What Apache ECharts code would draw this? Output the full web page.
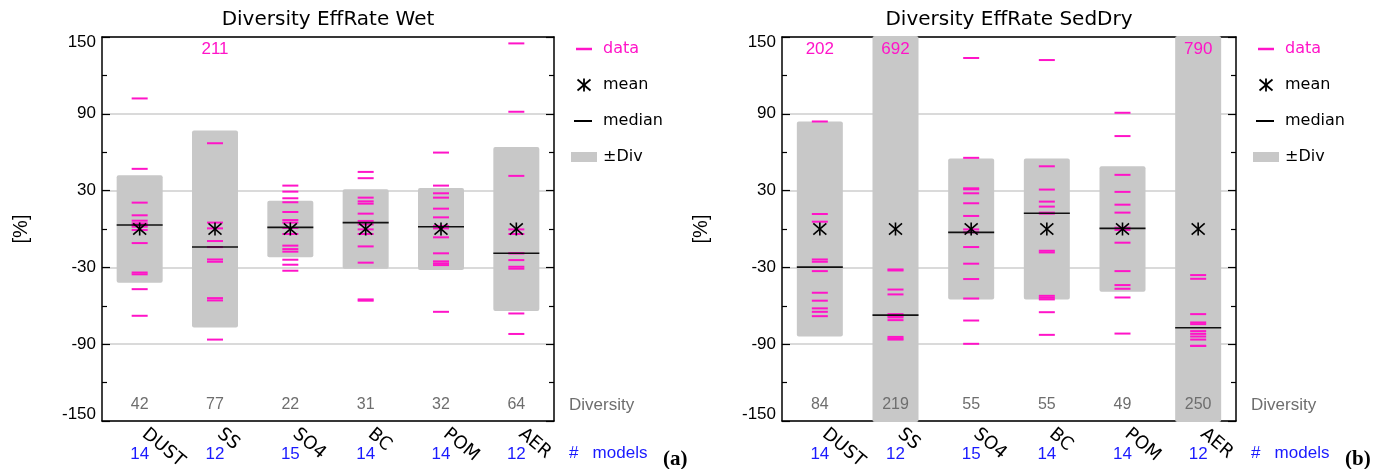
<!DOCTYPE html>
<html><head><meta charset="utf-8">
<script src="https://cdn.jsdelivr.net/npm/echarts@6/dist/echarts.min.js"></script>
<style>html,body{margin:0;padding:0;background:#fff}#c{width:1375px;height:469px}</style>
</head><body><div id="c"></div>
<script>
// ---------------- data ----------------
const CATEGORIES = ['DUST', 'SS', 'SO4', 'BC', 'POM', 'AER'];
const Y_TICK_LABELS = ['-150', '-90', '-30', '30', '90', '150'];
const WET_TITLE = 'Diversity EffRate Wet';
const SED_TITLE = 'Diversity EffRate SedDry';
const WET_MODELS = [14, 12, 15, 14, 14, 12];
const SED_MODELS = [14, 12, 15, 14, 14, 12];
const WET_DIVERSITY = [42, 77, 22, 31, 32, 64];
const SED_DIVERSITY = [84, 219, 55, 55, 49, 250];
const WET_MEAN = [0, 0, 0, 0, 0, 0];
const SED_MEAN = [0, 0, 0, 0, 0, 0];
const WET_MEDIAN = [3.1, -14.1, 1.3, 5.0, 1.8, -19.0];
const SED_MEDIAN = [-29.8, -67.3, -2.6, 12.3, 0.5, -77.2];

const WET_DUST = [102, 47, 20.6, 10.7, 6.5, 4.4, 3, 1.8, -0.8, -11, -34, -35.4, -47, -67.8];
const WET_SS   = [211, 67, 5, 0.5, -9.4, -14.1, -14.1, -23.8, -25.6, -54, -55.8, -86.4];
const WET_SO4  = [33.9, 29.2, 24, 20.9, 13.3, 7, 5, 0.8, -3.9, -13, -15.7, -17.7, -24, -27.9, -32.6];
const WET_BC   = [44.6, 39.7, 24.5, 21.6, 19.8, 12, 6.3, 3.6, -0.3, -3.9, -13.6, -26.3, -55, -56];
const WET_POM  = [59.7, 33.9, 27.9, 24.5, 15.9, 9.1, 2.3, 0.5, -6.5, -19, -25.3, -26.9, -28.2, -64.7];
const WET_AER  = [145, 91.6, 41.5, -0.3, -3.9, -19, -19, -24.3, -29.5, -31, -66, -82];

const SED_DUST = [202, 84, 11.7, 5.7, -23.8, -25.6, -32.9, -49.8, -56, -62, -64.7, -68.1];
const SED_SS   = [692, -31.6, -32.4, -47.3, -51.1, -66.5, -68.1, -69.1, -71.2, -84.3, -85.6, -86.4];
const SED_SO4  = [133.6, 55.6, 31.8, 31, 27.9, 20.1, 10.2, -0.3, -2.6, -14.1, -27.1, -39.1, -54.3, -71.5, -89.7];
const SED_BC   = [132, 49, 30.8, 21.4, 17.5, 12.8, 12, -17, -18.3, -52.2, -53.7, -55, -65, -82.7];
const SED_POM  = [90.8, 72.6, 42.3, 29, 19, 12.8, 1, -0.8, -10.7, -32.9, -43.8, -46.7, -53.5, -81.7];
const SED_AER  = [790, -36, -38.9, -66.5, -73, -74.3, -79.8, -81.9, -84, -86.4, -91.3, -91.3];

const WET_DATA = [WET_DUST, WET_SS, WET_SO4, WET_BC, WET_POM, WET_AER];
const SED_DATA = [SED_DUST, SED_SS, SED_SO4, SED_BC, SED_POM, SED_AER];

// ---------------- style ----------------
const MAG = '#ff14c8';
const BOX = '#c8c8c8';
const BLUE = '#1a1aff';
const GRAYTXT = '#6e6e6e';
const SANS = 'Liberation Sans';
const HERSHEY = 'DejaVu Sans';
const YMIN = -150, YMAX = 150;

const GRIDS = [
  { left: 102, top: 37, width: 452, height: 384 },
  { left: 782, top: 37, width: 454, height: 384 }
];

const PANELS = [
  { title: WET_TITLE, models: WET_MODELS, div: WET_DIVERSITY, mean: WET_MEAN, median: WET_MEDIAN, data: WET_DATA, tag: '(a)' },
  { title: SED_TITLE, models: SED_MODELS, div: SED_DIVERSITY, mean: SED_MEAN, median: SED_MEDIAN, data: SED_DATA, tag: '(b)' }
];

const axisLineStyle = { color: '#000', width: 1.5 };

const xAxes = [], yAxes = [], series = [], graphic = [];

function clipBox(cs) {
  return { x: cs.x, y: cs.y - 1, width: cs.width, height: cs.height + 2 };
}

PANELS.forEach((P, p) => {
  const g = GRIDS[p];
  // x axes: main (bottom, names), top (ticks), models (numbers)
  xAxes.push({
    type: 'category', gridIndex: p, data: CATEGORIES, position: 'bottom',
    axisLine: { onZero: false, lineStyle: axisLineStyle },
    axisTick: { inside: true, alignWithLabel: true, length: 7, lineStyle: { color: '#000', width: 1.2 } },
    axisLabel: { interval: 0, rotate: -40, margin: 7, padding: [0, 0, 0, 6], fontSize: 18, color: '#000', fontFamily: HERSHEY },
    splitLine: { show: false }
  });
  xAxes.push({
    type: 'category', gridIndex: p, data: CATEGORIES, position: 'top',
    axisLine: { onZero: false, lineStyle: axisLineStyle },
    axisTick: { inside: true, alignWithLabel: true, length: 7, lineStyle: { color: '#000', width: 1.2 } },
    axisLabel: { show: false }, splitLine: { show: false }
  });
  xAxes.push({
    type: 'category', gridIndex: p, data: CATEGORIES, position: 'bottom', offset: 17,
    axisLine: { show: false, onZero: false }, axisTick: { show: false },
    axisLabel: { interval: 0, margin: 8, fontSize: 17, color: BLUE, fontFamily: SANS,
      formatter: (v, i) => String(P.models[i]) },
    splitLine: { show: false }
  });
  // y axes
  yAxes.push({
    type: 'value', gridIndex: p, min: YMIN, max: YMAX, interval: 60, position: 'left',
    axisLine: { show: true, onZero: false, lineStyle: axisLineStyle },
    axisTick: { show: true, inside: true, length: 8, lineStyle: { color: '#000', width: 1.2 } },
    minorTick: { show: true, splitNumber: 2, length: 5, lineStyle: { color: '#000', width: 1.2 } },
    axisLabel: { fontSize: 17, color: '#000', fontFamily: SANS, margin: 6,
      formatter: v => {
        const t = Y_TICK_LABELS[Math.round((v - YMIN) / 60)];
        if (v === YMAX) return '{top|' + t + '}';
        if (v === YMIN) return '{bot|' + t + '}';
        return t;
      },
      rich: {
        top: { fontSize: 17, fontFamily: SANS, color: '#000', padding: [10, 0, 0, 0] },
        bot: { fontSize: 17, fontFamily: SANS, color: '#000', padding: [0, 0, 14, 0] }
      } },
    splitLine: { show: true, lineStyle: { color: '#dadada', width: 2 } },
    name: '[%]', nameLocation: 'middle', nameGap: 71, nameRotate: 90,
    nameTextStyle: { fontSize: 20, color: '#000', fontFamily: SANS }
  });
  yAxes.push({
    type: 'value', gridIndex: p, min: YMIN, max: YMAX, interval: 60, position: 'right',
    axisLine: { show: true, onZero: false, lineStyle: axisLineStyle },
    axisTick: { show: true, inside: true, length: 8, lineStyle: { color: '#000', width: 1.2 } },
    minorTick: { show: true, splitNumber: 2, length: 5, lineStyle: { color: '#000', width: 1.2 } },
    axisLabel: { show: false }, splitLine: { show: false }
  });

  const xi = p * 3, yi = p * 2;
  const common = { type: 'custom', xAxisIndex: xi, yAxisIndex: yi, silent: true, encode: { x: 0, y: 1 } };

  // ± diversity boxes
  series.push(Object.assign({}, common, {
    z: 2,
    data: P.div.map((d, i) => [i, d]),
    renderItem: (params, api) => {
      const i = api.value(0), d = api.value(1);
      const a = api.coord([i, d]), b = api.coord([i, -d]);
      const r = echarts.graphic.clipRectByRect(
        { x: a[0] - 23, y: a[1], width: 46, height: b[1] - a[1] }, clipBox(params.coordSys));
      if (!r) return null;
      return { type: 'rect', shape: { x: r.x, y: r.y, width: r.width, height: r.height, r: 2 }, style: { fill: BOX } };
    }
  }));

  // data ticks
  const pts = [];
  P.data.forEach((arr, i) => arr.forEach(v => pts.push([i, v])));
  series.push(Object.assign({}, common, {
    z: 3,
    data: pts,
    renderItem: (params, api) => {
      const v = api.value(1);
      if (v > YMAX || v < YMIN) return null;
      const c = api.coord([api.value(0), v]);
      return { type: 'line', shape: { x1: c[0] - 8, y1: c[1], x2: c[0] + 8, y2: c[1] }, style: { stroke: MAG, lineWidth: 2 } };
    }
  }));

  // median lines
  series.push(Object.assign({}, common, {
    z: 4,
    data: P.median.map((m, i) => [i, m]),
    renderItem: (params, api) => {
      const c = api.coord([api.value(0), api.value(1)]);
      return { type: 'line', shape: { x1: c[0] - 23, y1: c[1], x2: c[0] + 23, y2: c[1] }, style: { stroke: '#111', lineWidth: 1.6 } };
    }
  }));

  // mean asterisks
  series.push(Object.assign({}, common, {
    z: 5,
    data: P.mean.map((m, i) => [i, m]),
    renderItem: (params, api) => {
      const c = api.coord([api.value(0), api.value(1)]);
      const s = 6.5;
      const st = { stroke: '#000', lineWidth: 1.6 };
      return { type: 'group', children: [
        { type: 'line', shape: { x1: c[0], y1: c[1] - s, x2: c[0], y2: c[1] + s }, style: st },
        { type: 'line', shape: { x1: c[0] - s, y1: c[1] - s * 0.85, x2: c[0] + s, y2: c[1] + s * 0.85 }, style: st },
        { type: 'line', shape: { x1: c[0] - s, y1: c[1] + s * 0.85, x2: c[0] + s, y2: c[1] - s * 0.85 }, style: st }
      ] };
    }
  }));

  // off-scale data values written at the top
  const off = pts.filter(d => d[1] > YMAX).map(d => [d[0], d[1]]);
  series.push(Object.assign({}, common, {
    z: 6,
    data: off,
    renderItem: (params, api) => {
      const c = api.coord([api.value(0), 140]);
      return { type: 'text', x: c[0], y: c[1], style: { text: String(api.value(1)), fill: MAG, fontSize: 17, fontFamily: SANS, align: 'center', verticalAlign: 'middle' } };
    }
  }));

  // diversity numbers near the bottom
  series.push(Object.assign({}, common, {
    z: 6,
    data: P.div.map((d, i) => [i, d]),
    renderItem: (params, api) => {
      const c = api.coord([api.value(0), -137.5]);
      return { type: 'text', x: c[0], y: c[1], style: { text: String(api.value(1)), fill: GRAYTXT, fontSize: 16, fontFamily: SANS, align: 'center', verticalAlign: 'middle' } };
    }
  }));

  // ---- decorations (titles, legend, side labels) ----
  const right = g.left + g.width;
  const lx = right + 49;
  graphic.push({ type: 'text', x: g.left + g.width / 2, y: 20,
    style: { text: P.title, fill: '#000', fontSize: 20, fontFamily: HERSHEY, align: 'center', verticalAlign: 'middle' } });
  // legend
  graphic.push({ type: 'line', shape: { x1: lx - 27, y1: 49, x2: lx - 11, y2: 49 }, style: { stroke: MAG, lineWidth: 2.5 } });
  graphic.push({ type: 'text', x: lx, y: 49, style: { text: 'data', fill: MAG, fontSize: 16, fontFamily: HERSHEY, verticalAlign: 'middle' } });
  const ax = lx - 19, ay = 85, s = 6.5;
  [[ax, ay - s, ax, ay + s], [ax - s, ay - s * 0.85, ax + s, ay + s * 0.85], [ax - s, ay + s * 0.85, ax + s, ay - s * 0.85]].forEach(l =>
    graphic.push({ type: 'line', shape: { x1: l[0], y1: l[1], x2: l[2], y2: l[3] }, style: { stroke: '#000', lineWidth: 1.8 } }));
  graphic.push({ type: 'text', x: lx, y: 85, style: { text: 'mean', fill: '#000', fontSize: 16, fontFamily: HERSHEY, verticalAlign: 'middle' } });
  graphic.push({ type: 'line', shape: { x1: lx - 29, y1: 121, x2: lx - 11, y2: 121 }, style: { stroke: '#000', lineWidth: 2 } });
  graphic.push({ type: 'text', x: lx, y: 121, style: { text: 'median', fill: '#000', fontSize: 16, fontFamily: HERSHEY, verticalAlign: 'middle' } });
  graphic.push({ type: 'rect', shape: { x: lx - 32, y: 152, width: 26, height: 10 }, style: { fill: BOX } });
  graphic.push({ type: 'text', x: lx, y: 157, style: { text: '±Div', fill: '#000', fontSize: 16, fontFamily: HERSHEY, verticalAlign: 'middle' } });
  // side labels
  graphic.push({ type: 'text', x: right + 15, y: 405, style: { text: 'Diversity', fill: GRAYTXT, fontSize: 17, fontFamily: SANS, verticalAlign: 'middle' } });
  graphic.push({ type: 'text', x: right + 15, y: 453, style: { text: '#   models', fill: BLUE, fontSize: 17, fontFamily: SANS, verticalAlign: 'middle' } });
  graphic.push({ type: 'text', x: right + 109, y: 460, style: { text: P.tag, fill: '#000', fontSize: 21, fontWeight: 'bold', fontFamily: 'Liberation Serif', verticalAlign: 'middle' } });
});

const chart = echarts.init(document.getElementById('c'), null, { renderer: 'canvas' });
chart.setOption({
  animation: false,
  backgroundColor: '#fff',
  grid: GRIDS.map(g => Object.assign({ containLabel: false, outerBoundsMode: 'none' }, g)),
  xAxis: xAxes,
  yAxis: yAxes,
  series: series,
  graphic: graphic
});
</script>
</body></html>
